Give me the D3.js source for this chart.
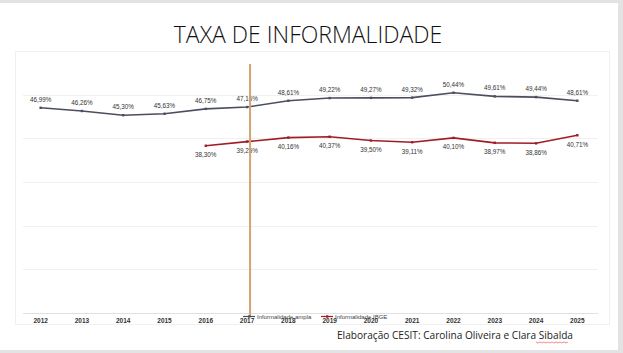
<!DOCTYPE html>
<html><head><meta charset="utf-8">
<script src="https://cdn.jsdelivr.net/npm/d3@7"></script>
<style>
html,body{margin:0;padding:0;background:#fff;}
svg{display:block;}
</style></head>
<body>
<script>
const years = ["2012","2013","2014","2015","2016","2017","2018","2019","2020","2021","2022","2023","2024","2025"];
const amplaValues = [46.99,46.26,45.30,45.63,46.75,47.16,48.61,49.22,49.27,49.32,50.44,49.61,49.44,48.61];
const ibgeYears = ["2016","2017","2018","2019","2020","2021","2022","2023","2024","2025"];
const ibgeValues = [38.30,39.25,40.16,40.37,39.50,39.11,40.10,38.97,38.86,40.71];
const yTicks = [0,10,20,30,40,50,60];
const seriesNames = ["Informalidade ampla","Informalidade IBGE"];
const markerYear = "2017";

const W=623,H=353;
const svg=d3.select("body").append("svg").attr("width",W).attr("height",H);
// slide frame
svg.append("rect").attr("x",0).attr("y",0).attr("width",W).attr("height",H).attr("fill","#e3e3e3");
svg.append("rect").attr("x",0).attr("y",3).attr("width",618).attr("height",347).attr("fill","#fff");
// chart box
svg.append("rect").attr("x",15.5).attr("y",51.5).attr("width",594).attr("height",273).attr("fill","none").attr("stroke","#f0f0f0");

svg.append("text").attr("x",308).attr("y",43).attr("text-anchor","middle")
  .attr("font-family","Open Sans, sans-serif").attr("font-weight",300).attr("font-size",23).attr("fill","#111")
  .text("TAXA DE INFORMALIDADE");

const x=d3.scaleBand().domain(years).range([20,598]);
const y=d3.scaleLinear().domain([0,60]).range([313,51]);
const cx=d=>x(d)+x.bandwidth()/2;

// gridlines
svg.append("g").selectAll("line").data(yTicks).join("line")
  .attr("x1",23).attr("x2",598).attr("y1",d=>Math.round(y(d))+0.5).attr("y2",d=>Math.round(y(d))+0.5)
  .attr("stroke",d=>d===0?"#e0e0e0":"#f0f0f0").attr("stroke-width",1);

// x axis labels
const xa=svg.append("g").attr("transform","translate(0,313)").call(d3.axisBottom(x).tickSize(0).tickPadding(5));
xa.select(".domain").remove();
xa.selectAll("text").attr("font-family","Liberation Sans, Arial, sans-serif").attr("font-size",6.5).attr("font-weight","bold").attr("fill","#333");

const amplaData=years.map((yr,i)=>({yr,v:amplaValues[i]}));
const ibgeData=ibgeYears.map((yr,i)=>({yr,v:ibgeValues[i]}));
const line=d3.line().x(d=>cx(d.yr)).y(d=>y(d.v));
const fmt=v=>d3.format(".2f")(v).replace(".",",")+"%";

function series(data,color,above){
  svg.append("path").datum(data).attr("d",line).attr("fill","none").attr("stroke",color).attr("stroke-width",1.6);
  svg.append("g").selectAll("rect").data(data).join("rect")
    .attr("x",d=>cx(d.yr)-1.2).attr("y",d=>y(d.v)-1.2).attr("width",2.4).attr("height",2.4).attr("fill",color);
  svg.append("g").selectAll("text").data(data).join("text")
    .attr("x",d=>cx(d.yr)).attr("y",d=>y(d.v)+(above?-6:11.5)).attr("text-anchor","middle")
    .attr("font-family","Liberation Sans, Arial, sans-serif").attr("font-size",6.3).attr("fill","#333")
    .text(d=>fmt(d.v));
}
series(amplaData,"#4b4f5d",true);
series(ibgeData,"#a11d26",false);

// vertical marker line
svg.append("line").attr("x1",cx(markerYear)+3).attr("x2",cx(markerYear)+3).attr("y1",64).attr("y2",317)
  .attr("stroke","#d2a373").attr("stroke-width",2);

// legend
const leg=[{n:seriesNames[0],c:"#4b4f5d",x:243},{n:seriesNames[1],c:"#a11d26",x:321}];
leg.forEach(l=>{
  svg.append("line").attr("x1",l.x).attr("x2",l.x+12).attr("y1",316.5).attr("y2",316.5).attr("stroke",l.c).attr("stroke-width",1.2);
  svg.append("rect").attr("x",l.x+5).attr("y",315.3).attr("width",2.4).attr("height",2.4).attr("fill",l.c);
  svg.append("text").attr("x",l.x+14).attr("y",318.5).attr("font-family","Liberation Sans, Arial, sans-serif")
    .attr("font-size",6).attr("fill","#444").text(l.n);
});

// footer
svg.append("text").attr("x",337).attr("y",339).attr("font-family","Open Sans, sans-serif")
  .attr("font-size",11.5).attr("fill","#222").attr("textLength",236).attr("lengthAdjust","spacingAndGlyphs")
  .text("Elaboração CESIT: Carolina Oliveira e Clara Sibalda");
// spell-check squiggle under "Sibalda"
const sq=d3.range(0,17).map(i=>[536+i*2,342+(i%2?1:0)]);
svg.append("path").attr("d",d3.line()(sq)).attr("fill","none").attr("stroke","#e04040").attr("stroke-width",0.6);
</script>
</body></html>
